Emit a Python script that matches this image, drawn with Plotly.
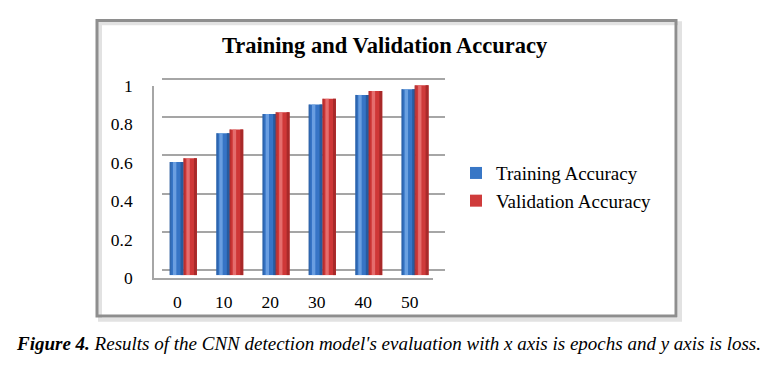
import plotly.graph_objects as go

# ---- data ----
epochs = ["0", "10", "20", "30", "40", "50"]
training_acc = [0.59, 0.74, 0.84, 0.89, 0.94, 0.97]
validation_acc = [0.61, 0.76, 0.85, 0.92, 0.96, 0.99]
y_ticks = [0, 0.2, 0.4, 0.6, 0.8, 1]
y_ticktext = ["0", "0.2", "0.4", "0.6", "0.8", "1"]
series_names = ["Training Accuracy", "Validation Accuracy"]

W, H = 769, 378
FONT = "Liberation Serif, Times New Roman, serif"


def fx(px):
    return px / W


def fy(py):
    return 1 - py / H


fig = go.Figure()

# empty helper traces so every subplot exists
fig.add_trace(go.Scatter(x=[], y=[], xaxis="x", yaxis="y", showlegend=False, hoverinfo="skip"))
fig.add_trace(go.Scatter(x=[], y=[], xaxis="x2", yaxis="y2", showlegend=False, hoverinfo="skip"))

# bars (cylinder look: body + dark edges + highlight strip)
bw = 0.29
specs = [
    (training_acc, series_names[0], ["#2a5c9e", "#3877c6", "#78abe8"], -bw),
    (validation_acc, series_names[1], ["#a82b2b", "#cf3b3b", "#ea7b7b"], 0.0),
]
for vals, name, cols, off in specs:
    fig.add_trace(go.Bar(
        x=epochs, y=vals, name=name, xaxis="x3", yaxis="y3",
        marker=dict(color=cols[1], line=dict(width=0)),
        width=bw, offset=off,
    ))
for vals, name, cols, off in specs:
    fig.add_trace(go.Bar(
        x=epochs, y=vals, name=name, xaxis="x3", yaxis="y3",
        marker=dict(color=cols[0], line=dict(width=0)),
        width=bw * 0.22, offset=off + bw * 0.78, showlegend=False, hoverinfo="skip",
    ))
    fig.add_trace(go.Bar(
        x=epochs, y=vals, name=name, xaxis="x3", yaxis="y3",
        marker=dict(color=cols[0], line=dict(width=0)), opacity=0.6,
        width=bw * 0.1, offset=off, showlegend=False, hoverinfo="skip",
    ))
    fig.add_trace(go.Bar(
        x=epochs, y=vals, name=name, xaxis="x3", yaxis="y3",
        marker=dict(color=cols[2], line=dict(width=0)), opacity=0.8,
        width=bw * 0.25, offset=off + bw * 0.22, showlegend=False, hoverinfo="skip",
    ))

grid_col = "#a6a6a6"
fig.update_layout(
    width=W, height=H,
    margin=dict(l=0, r=0, t=0, b=0),
    paper_bgcolor="white",
    plot_bgcolor="rgba(0,0,0,0)",
    barmode="overlay",
    font=dict(family=FONT, color="black"),
    showlegend=True,
    legend=dict(
        x=fx(456), y=fy(187), xanchor="left", yanchor="middle",
        font=dict(family=FONT, size=19, color="black"),
        bgcolor="rgba(0,0,0,0)", tracegroupgap=0,
    ),
    # back wall gridlines
    xaxis=dict(domain=[fx(162), fx(445)], anchor="y", visible=False, range=[0, 1]),
    yaxis=dict(domain=[fy(275), fy(275 - 202.5 * 1.01)], anchor="x", range=[0, 1.01],
               tickvals=y_ticks, showticklabels=False, showgrid=True,
               gridcolor=grid_col, gridwidth=1.6, zeroline=True,
               zerolinecolor=grid_col, zerolinewidth=1.6, showline=False, ticks=""),
    # front axes with labels
    xaxis2=dict(domain=[fx(154), fx(433)], anchor="y2", range=[-0.5, 5.5],
                tickmode="array", tickvals=list(range(len(epochs))), ticktext=epochs,
                showgrid=False, zeroline=False, showline=True, linecolor=grid_col,
                linewidth=1.6, ticks="", ticklabelstandoff=7,
                tickfont=dict(family=FONT, size=17.5, color="black")),
    yaxis2=dict(domain=[fy(283), fy(80)], anchor="x2", range=[0, 1],
                tickmode="array", tickvals=y_ticks, ticktext=y_ticktext,
                showgrid=False, zeroline=False, showline=True, linecolor=grid_col,
                linewidth=1.6, ticks="", ticklabelstandoff=16,
                tickfont=dict(family=FONT, size=17.5, color="black")),
    # bars
    xaxis3=dict(domain=[fx(160.3), fx(438.3)], anchor="y3", type="category",
                categoryorder="array", categoryarray=epochs, range=[-0.5, 5.5],
                visible=False),
    yaxis3=dict(domain=[fy(280), fy(77.5)], anchor="x3", range=[0, 1], visible=False),
)

# chart frame with shadow
fig.add_shape(type="rect", xref="paper", yref="paper",
              x0=fx(100), x1=fx(680), y0=fy(327), y1=fy(14),
              line=dict(color="#e2e2e2", width=4), layer="below")
fig.add_shape(type="rect", xref="paper", yref="paper",
              x0=fx(97), x1=fx(676), y0=fy(323), y1=fy(11),
              line=dict(color="#8e8e8e", width=3), layer="below")

# title
fig.add_annotation(text="<b>Training and Validation Accuracy</b>", xref="paper", yref="paper",
                   x=fx(385), y=fy(37), xanchor="center", yanchor="middle", showarrow=False,
                   font=dict(family=FONT, size=22.5, color="black"))

# caption
fig.add_annotation(
    text="<b><i>Figure 4.</i></b><i> Results of the CNN detection model's evaluation with x axis is epochs and y axis is loss.</i>",
    xref="paper", yref="paper", x=fx(388), y=fy(352), xanchor="center", yanchor="middle",
    showarrow=False, font=dict(family=FONT, size=19, color="black"))

fig.write_html("out.html", config={"displayModeBar": False},
               post_script="document.body.style.margin='0';")
